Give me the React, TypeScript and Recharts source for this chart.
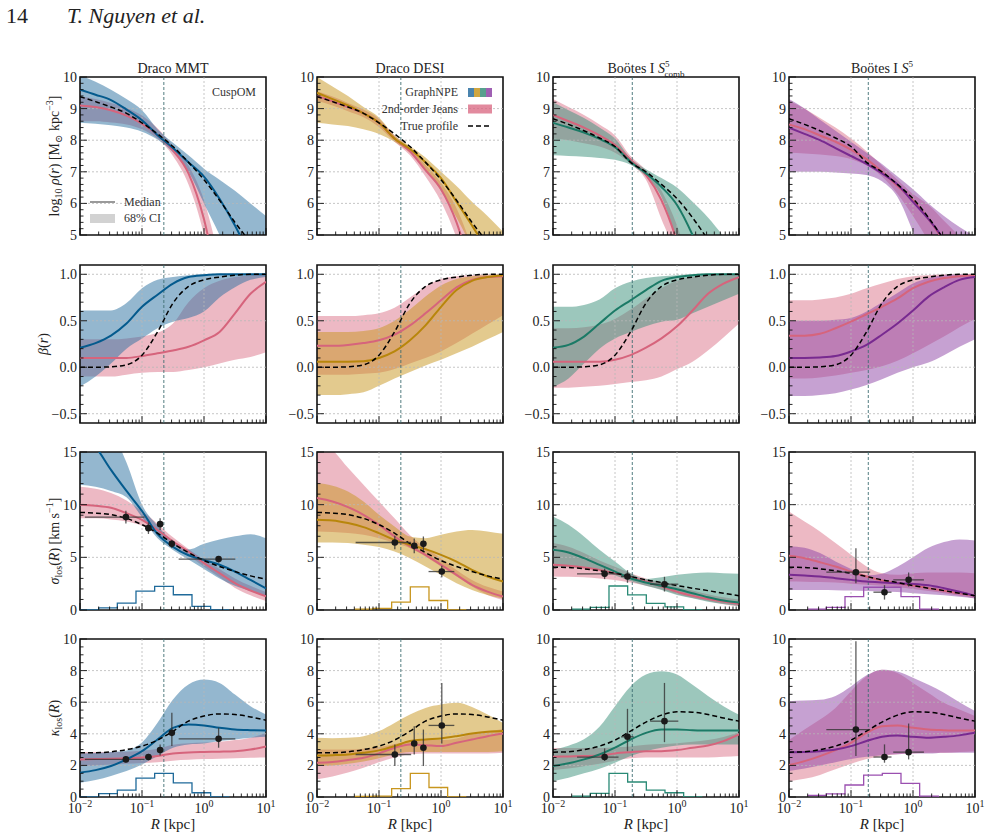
import React from 'react';
import { ComposedChart, Area, Line, Scatter, ErrorBar, XAxis, YAxis, ReferenceLine, ReferenceArea } from 'recharts';

const FONT = "'Liberation Serif', 'DejaVu Serif', serif";

const R_KPC = [0.01, 0.0178, 0.0316, 0.0562, 0.1, 0.178, 0.316, 0.562, 1, 1.78, 3.16, 5.62, 10];
const HIST_EDGES = [0.01, 0.02, 0.04, 0.08, 0.16, 0.32, 0.64, 1.28, 2.56];

const X_TICKS = [0.01, 0.02, 0.03, 0.04, 0.05, 0.06, 0.07, 0.08, 0.09, 0.1, 0.2, 0.3, 0.4, 0.5, 0.6, 0.7, 0.8, 0.9, 1, 2, 3, 4, 5, 6, 7, 8, 9, 10];
const RHO_TICKS = [5, 5.2, 5.4, 5.6, 5.8, 6, 6.2, 6.4, 6.6, 6.8, 7, 7.2, 7.4, 7.6, 7.8, 8, 8.2, 8.4, 8.6, 8.8, 9, 9.2, 9.4, 9.6, 9.8, 10];
const BETA_TICKS = [-0.5, -0.4, -0.3, -0.2, -0.1, 0, 0.1, 0.2, 0.3, 0.4, 0.5, 0.6, 0.7, 0.8, 0.9, 1.0];
const SIGMA_TICKS = [0, 1, 2, 3, 4, 5, 6, 7, 8, 9, 10, 11, 12, 13, 14, 15];
const KAPPA_TICKS = [0, 0.5, 1, 1.5, 2, 2.5, 3, 3.5, 4, 4.5, 5, 5.5, 6, 6.5, 7, 7.5, 8, 8.5, 9, 9.5, 10];
const RHO_MAJOR = [5, 6, 7, 8, 9, 10];
const BETA_MAJOR = [-0.5, 0, 0.5, 1.0];
const SIGMA_MAJOR = [0, 5, 10, 15];
const KAPPA_MAJOR = [0, 2, 4, 6, 8, 10];

const TITLES = ['Draco MMT', 'Draco DESI', 'Boötes I', 'Boötes I'];
const R_HALF = [0.225, 0.225, 0.19, 0.19];

// ---- log10 rho ----
const rhoDracoTrue = [9.38, 9.22, 9.05, 8.85, 8.55, 8.2, 7.8, 7.3, 6.75, 6.1, 5.4, 4.75, 4.0];
const rhoBootesTrue = [8.68, 8.5, 8.3, 8.07, 7.8, 7.3, 7.0, 6.6, 6.15, 5.55, 4.85, 4.1, 3.3];
const rhoMmtNpe = [9.6, 9.44, 9.27, 8.97, 8.63, 8.16, 7.75, 7.3, 6.85, 6.15, 5.3, 4.3, 3.2];
const rhoMmtNpeHi = [10.05, 9.85, 9.6, 9.3, 8.95, 8.35, 7.92, 7.52, 7.1, 6.75, 6.4, 6.0, 5.6];
const rhoMmtNpeLo = [8.55, 8.52, 8.47, 8.4, 8.27, 8.02, 7.62, 7.0, 6.0, 5.0, 3.8, 2.5, 1.5];
const rhoMmtJns = [9.1, 9.05, 8.95, 8.78, 8.52, 8.16, 7.68, 6.95, 5.5, 3.2, 1.0, 0, -1];
const rhoMmtJnsHi = [9.4, 9.3, 9.18, 9.02, 8.78, 8.38, 7.82, 7.2, 6.1, 4.2, 2.0, 0, -1];
const rhoMmtJnsLo = [8.6, 8.6, 8.56, 8.5, 8.35, 8.05, 7.5, 6.6, 5.0, 2.5, 1.0, 0, -1];
const rhoDesiNpe = [9.5, 9.3, 9.1, 8.85, 8.55, 8.05, 7.72, 7.3, 6.8, 6.05, 5.3, 4.5, 3.6];
const rhoDesiNpeHi = [10.0, 9.7, 9.4, 9.05, 8.72, 8.15, 7.82, 7.45, 7.0, 6.55, 6.05, 5.6, 5.1];
const rhoDesiNpeLo = [8.55, 8.5, 8.45, 8.35, 8.2, 7.95, 7.6, 7.05, 6.4, 5.55, 4.6, 3.6, 2.5];
const rhoDesiJns = [9.4, 9.23, 9.05, 8.85, 8.55, 8.05, 7.65, 7.05, 6.45, 5.4, 3.8, 2.0, 0];
const rhoDesiJnsHi = [9.55, 9.38, 9.18, 8.97, 8.68, 8.15, 7.75, 7.22, 6.65, 5.85, 4.6, 3.0, 1.0];
const rhoDesiJnsLo = [9.25, 9.1, 8.92, 8.73, 8.42, 7.95, 7.52, 6.85, 6.05, 4.9, 3.2, 1.5, 0];
const rhoCombNpe = [8.55, 8.4, 8.24, 8.04, 7.78, 7.32, 6.95, 6.52, 5.95, 5.0, 3.8, 2.3, 0.5];
const rhoCombNpeHi = [9.2, 8.95, 8.7, 8.4, 8.05, 7.42, 7.08, 6.8, 6.5, 6.05, 5.55, 4.95, 4.3];
const rhoCombNpeLo = [7.52, 7.5, 7.48, 7.44, 7.38, 7.22, 6.85, 6.2, 4.8, 3.2, 1.5, 0, -1];
const rhoCombJns = [8.8, 8.6, 8.4, 8.15, 7.85, 7.38, 6.9, 6.1, 4.8, 3.0, 1.0, -1, -3];
const rhoCombJnsHi = [9.3, 9.05, 8.8, 8.5, 8.15, 7.5, 7.05, 6.4, 5.3, 3.8, 2.0, 0, -2];
const rhoCombJnsLo = [8.05, 8.0, 7.9, 7.8, 7.6, 7.25, 6.75, 5.5, 4.3, 2.5, 0.5, -1, -3];
const rhoS5Npe = [8.4, 8.2, 8.0, 7.75, 7.5, 7.25, 6.95, 6.6, 6.05, 5.5, 4.85, 4.0, 3.0];
const rhoS5NpeHi = [9.3, 9.0, 8.65, 8.3, 7.95, 7.6, 7.25, 6.85, 6.45, 6.0, 5.6, 5.25, 4.95];
const rhoS5NpeLo = [7.0, 7.0, 7.0, 6.98, 6.95, 6.9, 6.7, 6.2, 5.1, 3.8, 2.5, 1.0, 0];
const rhoS5Jns = [8.5, 8.35, 8.15, 7.95, 7.7, 7.4, 7.0, 6.55, 6.1, 5.5, 4.8, 4.0, 3.1];
const rhoS5JnsHi = [9.25, 9.0, 8.7, 8.4, 8.05, 7.65, 7.2, 6.75, 6.3, 5.95, 5.45, 4.95, 4.4];
const rhoS5JnsLo = [7.6, 7.58, 7.55, 7.5, 7.4, 7.2, 6.85, 6.3, 5.6, 4.8, 3.9, 3.0, 2.0];

// ---- beta ----
const betaTrue = [0.0, 0.0, 0.005, 0.025, 0.13, 0.38, 0.69, 0.87, 0.94, 0.97, 0.99, 1.0, 1.0];
const betaMmtNpe = [0.21, 0.26, 0.34, 0.47, 0.65, 0.78, 0.9, 0.97, 0.99, 1.0, 1.0, 1.0, 1.0];
const betaMmtNpeHi = [0.61, 0.61, 0.61, 0.69, 0.85, 0.94, 0.97, 0.99, 1.0, 1.0, 1.0, 1.0, 1.0];
const betaMmtNpeLo = [-0.21, -0.1, 0.04, 0.2, 0.31, 0.42, 0.49, 0.53, 0.6, 0.75, 0.86, 0.94, 0.97];
const betaMmtJns = [0.1, 0.1, 0.1, 0.1, 0.12, 0.15, 0.18, 0.22, 0.29, 0.38, 0.58, 0.79, 0.92];
const betaMmtJnsHi = [0.3, 0.3, 0.3, 0.31, 0.33, 0.37, 0.47, 0.7, 0.85, 0.93, 0.97, 0.99, 1.0];
const betaMmtJnsLo = [-0.1, -0.1, -0.1, -0.08, -0.06, -0.05, -0.05, -0.03, 0.0, 0.04, 0.08, 0.11, 0.16];
const betaDesiNpe = [0.06, 0.06, 0.06, 0.065, 0.1, 0.17, 0.29, 0.45, 0.65, 0.83, 0.93, 0.97, 0.99];
const betaDesiNpeHi = [0.38, 0.38, 0.38, 0.39, 0.42, 0.5, 0.62, 0.76, 0.88, 0.95, 0.98, 0.99, 1.0];
const betaDesiNpeLo = [-0.3, -0.3, -0.29, -0.27, -0.2, -0.12, -0.05, 0.02, 0.08, 0.15, 0.22, 0.3, 0.38];
const betaDesiJns = [0.23, 0.23, 0.24, 0.26, 0.29, 0.35, 0.45, 0.58, 0.72, 0.86, 0.94, 0.97, 0.98];
const betaDesiJnsHi = [0.55, 0.55, 0.55, 0.56, 0.58, 0.64, 0.75, 0.87, 0.95, 0.98, 0.99, 1.0, 1.0];
const betaDesiJnsLo = [-0.08, -0.08, -0.08, -0.07, -0.06, -0.02, 0.04, 0.1, 0.17, 0.26, 0.36, 0.46, 0.56];
const betaCombNpe = [0.21, 0.24, 0.33, 0.47, 0.61, 0.72, 0.83, 0.93, 0.97, 0.99, 1.0, 1.0, 1.0];
const betaCombNpeHi = [0.65, 0.65, 0.67, 0.73, 0.85, 0.92, 0.96, 0.98, 0.99, 1.0, 1.0, 1.0, 1.0];
const betaCombNpeLo = [-0.21, -0.12, 0.04, 0.2, 0.31, 0.38, 0.44, 0.49, 0.51, 0.58, 0.65, 0.72, 0.79];
const betaCombJns = [0.06, 0.06, 0.06, 0.06, 0.08, 0.13, 0.21, 0.31, 0.44, 0.61, 0.79, 0.9, 0.97];
const betaCombJnsHi = [0.42, 0.42, 0.43, 0.46, 0.52, 0.62, 0.74, 0.85, 0.93, 0.97, 0.99, 1.0, 1.0];
const betaCombJnsLo = [-0.22, -0.22, -0.21, -0.2, -0.18, -0.16, -0.14, -0.1, -0.02, 0.06, 0.18, 0.32, 0.47];
const betaS5Npe = [0.1, 0.1, 0.105, 0.12, 0.17, 0.24, 0.35, 0.47, 0.61, 0.76, 0.86, 0.94, 0.97];
const betaS5NpeHi = [0.5, 0.5, 0.5, 0.51, 0.53, 0.6, 0.7, 0.8, 0.9, 0.96, 0.99, 1.0, 1.0];
const betaS5NpeLo = [-0.31, -0.31, -0.3, -0.28, -0.24, -0.19, -0.13, -0.06, 0.0, 0.05, 0.13, 0.22, 0.3];
const betaS5Jns = [0.34, 0.34, 0.36, 0.42, 0.49, 0.57, 0.65, 0.74, 0.85, 0.92, 0.96, 0.98, 0.99];
const betaS5JnsHi = [0.72, 0.72, 0.73, 0.75, 0.79, 0.85, 0.9, 0.95, 0.98, 0.99, 1.0, 1.0, 1.0];
const betaS5JnsLo = [-0.12, -0.12, -0.11, -0.09, -0.06, -0.03, 0.01, 0.07, 0.15, 0.24, 0.33, 0.43, 0.52];

// ---- sigma_los ----
const sigDracoTrue = [9.26, 9.2, 9.05, 8.7, 8.1, 7.3, 6.3, 5.45, 4.7, 4.13, 3.65, 3.24, 2.92];
const sigBootesTrue = [4.06, 4.03, 3.91, 3.72, 3.49, 3.18, 2.86, 2.61, 2.32, 2.07, 1.84, 1.59, 1.36];
const sigMmtNpe = [17, 15.5, 13.3, 11.3, 9.4, 7.2, 6.0, 5.2, 4.75, 4.3, 3.65, 2.85, 2.05];
const sigMmtNpeHi = [19, 18, 17, 14.0, 10.0, 8.0, 6.5, 5.75, 6.3, 6.7, 7.0, 7.2, 6.8];
const sigMmtNpeLo = [11.9, 11.7, 11.3, 10.7, 8.8, 6.8, 5.7, 4.8, 3.9, 3.0, 2.3, 1.8, 1.3];
const sigMmtJns = [10.0, 9.9, 9.7, 9.2, 8.55, 7.6, 6.5, 5.55, 4.45, 3.5, 2.55, 1.85, 1.3];
const sigMmtJnsHi = [11.7, 11.5, 11.1, 10.4, 9.4, 8.2, 6.9, 5.8, 4.8, 3.9, 3.0, 2.3, 1.7];
const sigMmtJnsLo = [8.7, 8.7, 8.6, 8.4, 8.0, 7.2, 6.2, 5.2, 4.1, 3.1, 2.1, 1.4, 0.85];
const sigDesiNpe = [8.57, 8.5, 8.25, 7.87, 7.3, 6.66, 6.19, 5.78, 5.24, 4.6, 3.81, 3.18, 2.7];
const sigDesiNpeHi = [12.05, 11.8, 11.26, 10.3, 9.04, 7.93, 6.98, 6.82, 7.14, 7.46, 7.6, 7.46, 7.23];
const sigDesiNpeLo = [6.41, 6.4, 6.35, 6.19, 5.97, 5.56, 4.92, 4.13, 3.34, 2.54, 1.9, 1.43, 1.1];
const sigDesiJns = [10.63, 10.3, 9.77, 9.04, 8.09, 6.98, 6.03, 5.24, 4.29, 3.34, 2.39, 1.75, 1.27];
const sigDesiJnsHi = [16.5, 15.2, 13.5, 11.9, 10.3, 8.7, 7.1, 5.9, 4.9, 3.8, 2.86, 2.2, 1.75];
const sigDesiJnsLo = [7.46, 7.4, 7.3, 7.14, 6.82, 6.35, 5.87, 5.08, 4.13, 3.18, 2.23, 1.43, 0.96];
const sigCombNpe = [5.71, 5.46, 4.92, 4.29, 3.65, 3.02, 2.61, 2.29, 1.97, 1.59, 1.21, 0.9, 0.71];
const sigCombNpeHi = [8.88, 8.09, 6.98, 5.71, 4.6, 3.49, 2.95, 3.11, 3.34, 3.49, 3.56, 3.49, 3.43];
const sigCombNpeLo = [4.13, 4.06, 3.97, 3.81, 3.3, 2.75, 2.3, 1.9, 1.43, 1.11, 0.79, 0.57, 0.38];
const sigCombJns = [4.29, 4.19, 4.03, 3.81, 3.49, 3.11, 2.7, 2.23, 1.74, 1.36, 1.05, 0.8, 0.57];
const sigCombJnsHi = [6.35, 6.0, 5.4, 4.7, 4.1, 3.5, 3.0, 2.6, 2.2, 1.85, 1.5, 1.2, 1.0];
const sigCombJnsLo = [3.18, 3.15, 3.1, 3.0, 2.85, 2.6, 2.3, 1.95, 1.5, 1.15, 0.85, 0.55, 0.35];
const sigS5Npe = [3.34, 3.27, 3.18, 3.02, 2.86, 2.7, 2.61, 2.54, 2.48, 2.35, 2.07, 1.74, 1.36];
const sigS5NpeHi = [6.05, 5.9, 5.4, 4.6, 3.9, 3.3, 3.45, 4.1, 5.0, 5.9, 6.45, 6.7, 6.6];
const sigS5NpeLo = [1.9, 1.9, 1.9, 1.88, 1.85, 1.8, 1.75, 1.7, 1.6, 1.5, 1.4, 1.25, 1.1];
const sigS5Jns = [5.14, 4.92, 4.54, 4.13, 3.65, 3.18, 2.8, 2.54, 2.32, 2.07, 1.82, 1.59, 1.36];
const sigS5JnsHi = [9.36, 8.4, 7.46, 6.35, 5.24, 4.13, 3.49, 3.34, 3.49, 3.56, 3.56, 3.56, 3.49];
const sigS5JnsLo = [2.7, 2.68, 2.65, 2.6, 2.5, 2.4, 2.3, 2.15, 2.0, 1.8, 1.6, 1.35, 1.1];

// ---- kappa_los ----
const kapDracoTrue = [2.8, 2.8, 2.86, 3.0, 3.22, 3.6, 4.17, 4.8, 5.12, 5.26, 5.22, 5.07, 4.86];
const kapBootesTrue = [2.84, 2.86, 3.0, 3.22, 3.6, 4.17, 4.74, 5.18, 5.39, 5.37, 5.22, 5.0, 4.8];
const kapMmtNpe = [1.54, 1.7, 1.96, 2.38, 2.9, 3.64, 4.38, 4.59, 4.53, 4.38, 4.27, 4.23, 4.21];
const kapMmtNpeHi = [2.75, 2.78, 2.85, 2.95, 3.45, 4.7, 6.17, 7.12, 7.43, 7.22, 6.48, 5.75, 5.22];
const kapMmtNpeLo = [0.9, 1.07, 1.33, 1.64, 2.06, 2.59, 3.12, 3.33, 3.39, 3.54, 3.64, 3.75, 3.81];
const kapMmtJns = [2.38, 2.4, 2.42, 2.45, 2.5, 2.6, 2.75, 2.82, 2.85, 2.87, 2.9, 3.0, 3.2];
const kapMmtJnsHi = [2.85, 2.85, 2.85, 2.87, 2.92, 3.05, 3.3, 3.4, 3.45, 3.5, 3.6, 3.75, 4.05];
const kapMmtJnsLo = [1.95, 2.0, 2.05, 2.1, 2.15, 2.2, 2.3, 2.35, 2.4, 2.42, 2.45, 2.48, 2.5];
const kapDesiNpe = [2.63, 2.65, 2.69, 2.8, 2.95, 3.22, 3.54, 3.64, 3.71, 3.85, 4.02, 4.13, 4.17];
const kapDesiNpeHi = [3.75, 3.72, 3.75, 3.85, 4.17, 4.69, 5.22, 5.64, 5.85, 5.96, 5.7, 5.22, 4.69];
const kapDesiNpeLo = [1.96, 2.0, 2.1, 2.25, 2.45, 2.7, 2.85, 2.85, 2.85, 2.85, 2.85, 2.85, 2.9];
const kapDesiJns = [2.17, 2.22, 2.34, 2.48, 2.76, 3.12, 3.33, 3.28, 3.22, 3.43, 3.64, 3.85, 4.02];
const kapDesiJnsHi = [3.0, 3.0, 3.0, 3.05, 3.15, 3.35, 3.55, 3.6, 3.6, 3.7, 4.0, 4.15, 4.3];
const kapDesiJnsLo = [1.12, 1.3, 1.55, 1.85, 2.2, 2.5, 2.7, 2.75, 2.75, 2.75, 2.75, 2.75, 2.8];
const kapCombNpe = [1.96, 2.13, 2.38, 2.69, 3.12, 3.64, 4.06, 4.27, 4.27, 4.23, 4.21, 4.21, 4.21];
const kapCombNpeHi = [3.0, 3.25, 3.65, 4.45, 5.75, 7.0, 7.75, 7.96, 7.75, 7.1, 6.4, 5.75, 5.2];
const kapCombNpeLo = [1.0, 1.22, 1.5, 1.79, 2.17, 2.59, 2.9, 3.12, 3.26, 3.33, 3.33, 3.33, 3.33];
const kapCombJns = [2.55, 2.57, 2.59, 2.62, 2.76, 2.84, 2.9, 2.9, 2.97, 3.12, 3.26, 3.54, 3.96];
const kapCombJnsHi = [3.1, 3.1, 3.1, 3.1, 3.15, 3.2, 3.3, 3.35, 3.4, 3.5, 3.6, 3.8, 4.1];
const kapCombJnsLo = [1.7, 1.8, 1.95, 2.1, 2.3, 2.45, 2.5, 2.5, 2.5, 2.5, 2.5, 2.55, 2.6];
const kapS5Npe = [2.84, 2.85, 2.9, 3.0, 3.22, 3.54, 3.81, 3.9, 3.81, 3.75, 3.81, 3.9, 4.06];
const kapS5NpeHi = [6.06, 6.1, 6.15, 6.4, 7.0, 7.7, 8.06, 7.95, 7.55, 7.1, 6.6, 6.0, 5.45];
const kapS5NpeLo = [1.64, 1.8, 2.0, 2.2, 2.4, 2.55, 2.65, 2.7, 2.75, 2.75, 2.8, 2.8, 2.8];
const kapS5Jns = [2.02, 2.27, 2.59, 2.97, 3.43, 4.06, 4.48, 4.53, 4.38, 4.27, 4.23, 4.21, 4.21];
const kapS5JnsHi = [3.6, 4.27, 4.9, 5.64, 6.7, 7.64, 8.06, 7.85, 7.22, 6.59, 5.96, 5.54, 5.12];
const kapS5JnsLo = [1.0, 1.15, 1.4, 1.75, 2.1, 2.4, 2.6, 2.7, 2.75, 2.8, 2.8, 2.85, 2.9];

// ---- binned data (radius and radial extent of each bin) ----
const mmtObsR = [0.055, 0.127, 0.196, 0.303, 1.72];
const mmtObsRLo = [0.012, 0.112, 0.182, 0.272, 0.39];
const mmtObsRHi = [0.11, 0.145, 0.212, 0.34, 3.2];
const sigMmtObs = [8.82, 7.77, 8.15, 6.28, 4.83];
const sigMmtObsErr = [0.6, 0.55, 0.55, 0.4, 0.3];
const kapMmtObs = [2.38, 2.53, 2.97, 4.06, 3.68];
const kapMmtObsLo = [0.2, 0.2, 0.35, 0.84, 0.56];
const kapMmtObsHi = [0.2, 0.2, 0.35, 1.27, 0.7];

const desiObsR = [0.18, 0.37, 0.52, 1.03];
const desiObsRLo = [0.042, 0.33, 0.47, 0.63];
const desiObsRHi = [0.33, 0.41, 0.58, 1.64];
const sigDesiObs = [6.41, 6.09, 6.28, 3.65];
const sigDesiObsErr = [0.65, 0.7, 0.7, 0.55];
const kapDesiObs = [2.69, 3.39, 3.12, 4.53];
const kapDesiObsLo = [0.73, 0.7, 1.16, 1.14];
const kapDesiObsHi = [0.64, 1.09, 1.15, 2.69];

const combObsR = [0.068, 0.159, 0.628];
const combObsRLo = [0.0244, 0.125, 0.369];
const combObsRHi = [0.114, 0.2, 1.05];
const sigCombObs = [3.43, 3.18, 2.45];
const sigCombObsErr = [0.5, 0.6, 0.7];
const kapCombObs = [2.53, 3.81, 4.8];
const kapCombObsLo = [0.25, 0.91, 1.33];
const kapCombObsHi = [0.55, 1.77, 2.42];

const s5ObsR = [0.12, 0.347, 0.85];
const s5ObsRLo = [0.04, 0.23, 0.48];
const s5ObsRHi = [0.204, 0.45, 1.5];
const sigS5Obs = [3.59, 1.69, 2.86];
const sigS5ObsLo = [1.05, 0.7, 0.63];
const sigS5ObsHi = [2.28, 0.67, 0.7];
const kapS5Obs = [4.27, 2.53, 2.84];
const kapS5ObsLo = [1.68, 0.36, 0.46];
const kapS5ObsHi = [5.58, 0.8, 1.81];

// ---- star-count histograms, one height per bin of HIST_EDGES ----
const histSigMmt = [0, 0.2, 0.65, 1.8, 2.25, 1.45, 0.35, 0];
const histKapMmt = [0, 0.21, 0.44, 1.2, 1.5, 0.9, 0.27, 0];
const histSigDesi = [null, null, 0.08, 0.15, 0.75, 2.2, 0.9, 0];
const histKapDesi = [null, null, 0.04, 0.06, 0.53, 1.5, 0.6, 0];
const histSigComb = [null, 0.08, 0.25, 2.28, 1.43, 0.63, 0.3, 0];
const histKapComb = [null, 0.06, 0.23, 1.5, 0.95, 0.44, 0.27, 0];
const histSigS5 = [null, 0.08, 0.25, 1.27, 2.16, 2.16, 1.27, 0.08];
const histKapS5 = [null, 0.1, 0.2, 0.76, 1.39, 1.5, 0.86, 0.06];

const NPE_LINE = ['#045a8d', '#b8860b', '#1b7a66', '#782a90'];
const NPE_FILL = ['#2a6fa0', '#c8961e', '#3a8f7a', '#8e44a6'];
const HIST_LINE = ['#1f6a9a', '#c8961e', '#2a8a76', '#9a4fb0'];
const JNS_LINE = '#d6647c';
const JNS_FILL = '#d8637d';

const COL_LEFT = [80, 317, 553, 789];
const ROW_TOP = [77, 265, 452, 639];
const PW = 186;
const PH = 158;
const YW = 45;
const MT = 12;
const MR = 16;
const XH = 30;

type Num = number | null;

function curveRows(npe: number[], lo: number[], hi: number[], jns: number[], jlo: number[], jhi: number[], tru: number[]) {
  return R_KPC.map((r, i) => ({
    r,
    npe: npe[i],
    npeBand: [lo[i], hi[i]],
    jns: jns[i],
    jnsBand: [jlo[i], jhi[i]],
    tru: tru[i],
  }));
}

function obsRows(r: number[], rLo: number[], rHi: number[], v: number[], eLo: number[], eHi: number[]) {
  return r.map((x, i) => ({ r: x, v: v[i], ex: [x - rLo[i], rHi[i] - x], ey: [eLo[i], eHi[i]] }));
}

function histRows(h: Num[]) {
  return HIST_EDGES.map((e, i) => ({ r: e, h: i < h.length ? h[i] : 0 }));
}

const ROWS = [
  { dom: [5, 10], ticks: RHO_TICKS, major: RHO_MAJOR, fmt: (v: number) => String(v) },
  { dom: [-0.6, 1.1], ticks: BETA_TICKS, major: BETA_MAJOR, fmt: (v: number) => v.toFixed(1).replace('-', '\u2212') },
  { dom: [0, 15], ticks: SIGMA_TICKS, major: SIGMA_MAJOR, fmt: (v: number) => String(v) },
  { dom: [0, 10], ticks: KAPPA_TICKS, major: KAPPA_MAJOR, fmt: (v: number) => String(v) },
];

const PANELS: any[][] = [
  [
    { rows: curveRows(rhoMmtNpe, rhoMmtNpeLo, rhoMmtNpeHi, rhoMmtJns, rhoMmtJnsLo, rhoMmtJnsHi, rhoDracoTrue) },
    { rows: curveRows(rhoDesiNpe, rhoDesiNpeLo, rhoDesiNpeHi, rhoDesiJns, rhoDesiJnsLo, rhoDesiJnsHi, rhoDracoTrue) },
    { rows: curveRows(rhoCombNpe, rhoCombNpeLo, rhoCombNpeHi, rhoCombJns, rhoCombJnsLo, rhoCombJnsHi, rhoBootesTrue) },
    { rows: curveRows(rhoS5Npe, rhoS5NpeLo, rhoS5NpeHi, rhoS5Jns, rhoS5JnsLo, rhoS5JnsHi, rhoBootesTrue) },
  ],
  [
    { rows: curveRows(betaMmtNpe, betaMmtNpeLo, betaMmtNpeHi, betaMmtJns, betaMmtJnsLo, betaMmtJnsHi, betaTrue) },
    { rows: curveRows(betaDesiNpe, betaDesiNpeLo, betaDesiNpeHi, betaDesiJns, betaDesiJnsLo, betaDesiJnsHi, betaTrue) },
    { rows: curveRows(betaCombNpe, betaCombNpeLo, betaCombNpeHi, betaCombJns, betaCombJnsLo, betaCombJnsHi, betaTrue) },
    { rows: curveRows(betaS5Npe, betaS5NpeLo, betaS5NpeHi, betaS5Jns, betaS5JnsLo, betaS5JnsHi, betaTrue) },
  ],
  [
    {
      rows: curveRows(sigMmtNpe, sigMmtNpeLo, sigMmtNpeHi, sigMmtJns, sigMmtJnsLo, sigMmtJnsHi, sigDracoTrue),
      hist: histRows(histSigMmt),
      obs: obsRows(mmtObsR, mmtObsRLo, mmtObsRHi, sigMmtObs, sigMmtObsErr, sigMmtObsErr),
    },
    {
      rows: curveRows(sigDesiNpe, sigDesiNpeLo, sigDesiNpeHi, sigDesiJns, sigDesiJnsLo, sigDesiJnsHi, sigDracoTrue),
      hist: histRows(histSigDesi),
      obs: obsRows(desiObsR, desiObsRLo, desiObsRHi, sigDesiObs, sigDesiObsErr, sigDesiObsErr),
    },
    {
      rows: curveRows(sigCombNpe, sigCombNpeLo, sigCombNpeHi, sigCombJns, sigCombJnsLo, sigCombJnsHi, sigBootesTrue),
      hist: histRows(histSigComb),
      obs: obsRows(combObsR, combObsRLo, combObsRHi, sigCombObs, sigCombObsErr, sigCombObsErr),
    },
    {
      rows: curveRows(sigS5Npe, sigS5NpeLo, sigS5NpeHi, sigS5Jns, sigS5JnsLo, sigS5JnsHi, sigBootesTrue),
      hist: histRows(histSigS5),
      obs: obsRows(s5ObsR, s5ObsRLo, s5ObsRHi, sigS5Obs, sigS5ObsLo, sigS5ObsHi),
    },
  ],
  [
    {
      rows: curveRows(kapMmtNpe, kapMmtNpeLo, kapMmtNpeHi, kapMmtJns, kapMmtJnsLo, kapMmtJnsHi, kapDracoTrue),
      hist: histRows(histKapMmt),
      obs: obsRows(mmtObsR, mmtObsRLo, mmtObsRHi, kapMmtObs, kapMmtObsLo, kapMmtObsHi),
    },
    {
      rows: curveRows(kapDesiNpe, kapDesiNpeLo, kapDesiNpeHi, kapDesiJns, kapDesiJnsLo, kapDesiJnsHi, kapDracoTrue),
      hist: histRows(histKapDesi),
      obs: obsRows(desiObsR, desiObsRLo, desiObsRHi, kapDesiObs, kapDesiObsLo, kapDesiObsHi),
    },
    {
      rows: curveRows(kapCombNpe, kapCombNpeLo, kapCombNpeHi, kapCombJns, kapCombJnsLo, kapCombJnsHi, kapBootesTrue),
      hist: histRows(histKapComb),
      obs: obsRows(combObsR, combObsRLo, combObsRHi, kapCombObs, kapCombObsLo, kapCombObsHi),
    },
    {
      rows: curveRows(kapS5Npe, kapS5NpeLo, kapS5NpeHi, kapS5Jns, kapS5JnsLo, kapS5JnsHi, kapBootesTrue),
      hist: histRows(histKapS5),
      obs: obsRows(s5ObsR, s5ObsRLo, s5ObsRHi, kapS5Obs, kapS5ObsLo, kapS5ObsHi),
    },
  ],
];

const makeXTick = (showLabel: boolean) => (p: any) => {
  const v = p.payload.value;
  const lg = Math.log10(v);
  const major = Math.abs(lg - Math.round(lg)) < 1e-6;
  const e = Math.round(lg);
  return (
    <g>
      <line x1={p.x} x2={p.x} y1={p.y} y2={p.y - (major ? 7 : 3.5)} stroke="#111" strokeWidth={0.9} />
      {major && showLabel && (
        <text x={p.x} y={p.y + 16} textAnchor="middle" fontFamily={FONT} fontSize={14} fill="#222">
          10<tspan dy={-6} fontSize={10}>{e < 0 ? '\u2212' + -e : String(e)}</tspan>
        </text>
      )}
    </g>
  );
};

const makeYTick = (major: number[], fmt: (v: number) => string) => (p: any) => {
  const v = p.payload.value;
  const isMajor = major.some((m) => Math.abs(m - v) < 1e-9);
  return (
    <g>
      <line x1={p.x} x2={p.x + (isMajor ? 7 : 3.5)} y1={p.y} y2={p.y} stroke="#111" strokeWidth={0.9} />
      {isMajor && (
        <text x={p.x - 3} y={p.y + 5} textAnchor="end" fontFamily={FONT} fontSize={14} fill="#222">
          {fmt(v)}
        </text>
      )}
    </g>
  );
};

const dot = (p: any) => <circle cx={p.cx} cy={p.cy} r={3.3} fill="#1a1a1a" />;

function Panel({ row, col }: { row: number; col: number }) {
  const cfg = ROWS[row];
  const pan = PANELS[row][col];
  const gridY = cfg.major.filter((m) => m > cfg.dom[0] && m < cfg.dom[1]);
  return (
    <div style={{ position: 'absolute', left: COL_LEFT[col] - YW, top: ROW_TOP[row] - MT }}>
      <ComposedChart
        width={YW + PW + MR}
        height={MT + PH + XH}
        data={pan.rows}
        margin={{ top: MT, right: MR, bottom: 0, left: 0 }}
      >
        <XAxis
          dataKey="r"
          type="number"
          scale="log"
          domain={[0.01, 10]}
          allowDataOverflow
          ticks={X_TICKS}
          interval={0}
          tickSize={0}
          tickMargin={0}
          axisLine={false}
          tickLine={false}
          height={XH}
          tick={makeXTick(row === 3)}
        />
        <YAxis
          type="number"
          domain={cfg.dom}
          allowDataOverflow
          ticks={cfg.ticks}
          interval={0}
          tickSize={0}
          tickMargin={0}
          axisLine={false}
          tickLine={false}
          width={YW}
          tick={makeYTick(cfg.major, cfg.fmt)}
        />
        <Area dataKey="jnsBand" type="monotone" stroke="none" fill={JNS_FILL} fillOpacity={0.45} isAnimationActive={false} activeDot={false} />
        <Area dataKey="npeBand" type="monotone" stroke="none" fill={NPE_FILL[col]} fillOpacity={0.5} isAnimationActive={false} activeDot={false} />
        {[0.1, 1].map((x) => (
          <ReferenceLine key={'gx' + x} x={x} stroke="#b8b8b8" strokeDasharray="2 2" strokeWidth={0.8} />
        ))}
        {gridY.map((y) => (
          <ReferenceLine key={'gy' + y} y={y} stroke="#b8b8b8" strokeDasharray="2 2" strokeWidth={0.8} />
        ))}
        <ReferenceLine x={R_HALF[col]} stroke="#3e6e72" strokeDasharray="3 2" strokeWidth={0.9} />
        {pan.hist && (
          <Line data={pan.hist} dataKey="h" type="stepAfter" stroke={HIST_LINE[col]} strokeWidth={1.3} dot={false} isAnimationActive={false} connectNulls={false} />
        )}
        <Line dataKey="jns" type="monotone" stroke={JNS_LINE} strokeWidth={2} dot={false} isAnimationActive={false} />
        <Line dataKey="npe" type="monotone" stroke={NPE_LINE[col]} strokeWidth={2} dot={false} isAnimationActive={false} />
        <Line dataKey="tru" type="monotone" stroke="#000" strokeWidth={1.5} strokeDasharray="5 3" dot={false} isAnimationActive={false} />
        {pan.obs && (
          <Scatter data={pan.obs} dataKey="v" shape={dot} isAnimationActive={false}>
            <ErrorBar dataKey="ex" direction="x" width={0} stroke="#333" strokeOpacity={0.8} strokeWidth={1.3} />
            <ErrorBar dataKey="ey" direction="y" width={0} stroke="#333" strokeOpacity={0.8} strokeWidth={1.3} />
          </Scatter>
        )}
        <ReferenceArea x1={0.01} x2={10} y1={cfg.dom[0]} y2={cfg.dom[1]} fill="#fff" fillOpacity={0} stroke="#111" strokeWidth={1.6} ifOverflow="visible" />
      </ComposedChart>
    </div>
  );
}

function Overlay() {
  const cx = COL_LEFT.map((l) => l + PW / 2);
  const t = { fontFamily: FONT, fill: '#222' };
  const yMid = ROW_TOP.map((tp) => tp + PH / 2);
  return (
    <svg width={989} height={837} style={{ position: 'absolute', left: 0, top: 0 }}>
      <text x={6} y={23} fontSize={22} {...t}>14</text>
      <text x={67} y={23} fontSize={22} fontStyle="italic" {...t}>T. Nguyen et al.</text>

      <text x={cx[0]} y={73} textAnchor="middle" fontSize={14} {...t}>{TITLES[0]}</text>
      <text x={cx[1]} y={73} textAnchor="middle" fontSize={14} {...t}>{TITLES[1]}</text>
      <text x={cx[2]} y={73} textAnchor="middle" fontSize={14} {...t}>
        {TITLES[2]} <tspan fontStyle="italic">S</tspan>
        <tspan fontSize={9} dy={-6}>5</tspan>
        <tspan fontSize={9} dx={-5} dy={10}>comb</tspan>
      </text>
      <text x={cx[3]} y={73} textAnchor="middle" fontSize={14} {...t}>
        {TITLES[3]} <tspan fontStyle="italic">S</tspan>
        <tspan fontSize={9} dy={-6}>5</tspan>
      </text>

      <text transform={`rotate(-90 54 ${yMid[0]})`} x={54} y={yMid[0] + 5} textAnchor="middle" fontSize={14} {...t}>
        log<tspan fontSize={10} dy={3}>10</tspan>
        <tspan dy={-3}> </tspan>
        <tspan fontStyle="italic">ρ</tspan>(<tspan fontStyle="italic">r</tspan>) [M
        <tspan fontSize={10} dy={3}>⊙</tspan>
        <tspan dy={-3}> kpc</tspan>
        <tspan fontSize={10} dy={-6}>−3</tspan>
        <tspan dy={6}>]</tspan>
      </text>
      <text transform={`rotate(-90 43 ${yMid[1]})`} x={43} y={yMid[1] + 5} textAnchor="middle" fontSize={14} {...t}>
        <tspan fontStyle="italic">β</tspan>(<tspan fontStyle="italic">r</tspan>)
      </text>
      <text transform={`rotate(-90 54 ${yMid[2] + 10})`} x={54} y={yMid[2] + 15} textAnchor="middle" fontSize={14} {...t}>
        <tspan fontStyle="italic">σ</tspan>
        <tspan fontSize={10} dy={3}>los</tspan>
        <tspan dy={-3}>(</tspan>
        <tspan fontStyle="italic">R</tspan>) [km s
        <tspan fontSize={10} dy={-6}>−1</tspan>
        <tspan dy={6}>]</tspan>
      </text>
      <text transform={`rotate(-90 54 ${yMid[3]})`} x={54} y={yMid[3] + 5} textAnchor="middle" fontSize={14} {...t}>
        <tspan fontStyle="italic">κ</tspan>
        <tspan fontSize={10} dy={3}>los</tspan>
        <tspan dy={-3}>(</tspan>
        <tspan fontStyle="italic">R</tspan>)
      </text>

      {cx.map((x, i) => (
        <text key={'xl' + i} x={x} y={829} textAnchor="middle" fontSize={15} {...t}>
          <tspan fontStyle="italic">R</tspan> [kpc]
        </text>
      ))}
    </svg>
  );
}

function Legends() {
  const t = { fontFamily: FONT, fill: '#333', fontSize: 12 };
  return (
    <svg width={989} height={837} style={{ position: 'absolute', left: 0, top: 0, pointerEvents: 'none' }}>
      <text x={256} y={96} textAnchor="end" {...t}>CuspOM</text>
      <line x1={90} x2={115} y1={202} y2={202} stroke="#9a9a9a" strokeWidth={2} />
      <text x={124} y={206} {...t}>Median</text>
      <rect x={90} y={214} width={25} height={9} fill="#d2d2d2" />
      <text x={124} y={222} {...t}>68% CI</text>

      <text x={458} y={96} textAnchor="end" {...t}>GraphNPE</text>
      {NPE_FILL.map((c, i) => (
        <rect key={c} x={468 + i * 6} y={88} width={6} height={9} fill={c} fillOpacity={0.85} />
      ))}
      <text x={458} y={113} textAnchor="end" {...t}>2nd-order Jeans</text>
      <rect x={468} y={104.5} width={24} height={9} fill={JNS_FILL} fillOpacity={0.75} />
      <text x={458} y={130} textAnchor="end" {...t}>True profile</text>
      <line x1={468} x2={492} y1={126} y2={126} stroke="#000" strokeWidth={1.5} strokeDasharray="5 3" />
    </svg>
  );
}

export default function App() {
  return (
    <div style={{ position: 'absolute', left: 0, top: 0, width: 989, height: 837, background: '#fff', overflow: 'hidden' }}>
      <Overlay />
      {ROWS.map((_, r) => COL_LEFT.map((_, c) => <Panel key={r + '-' + c} row={r} col={c} />))}
      <Legends />
    </div>
  );
}
